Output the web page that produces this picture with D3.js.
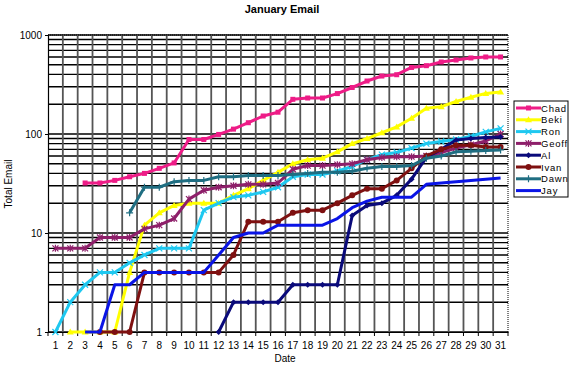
<!DOCTYPE html>
<meta charset="utf-8">
<script src="https://d3js.org/d3.v7.min.js"></script>
<style>
  body { margin: 0; background: #fff; }
  text { font-family: "Liberation Sans", Arial, sans-serif; }
</style>
<div id="my_dataviz"></div>

<script>

// data (null = no value that day)
var days = d3.range(1, 32);
var seriesNames = ["Chad", "Beki", "Ron", "Geoff", "Al", "Ivan", "Dawn", "Jay"];

var chad  = [null,null,32,32,34,37,40,45,51,88,88,99,112,130,152,166,224,231,231,256,295,343,385,397,470,490,534,559,586,600,600];
var beki  = [null,1,1,1,1,4,12,16,19,20,20,20,24,28,34,41,50,55,57,66,80,90,103,118,144,182,189,213,235,257,265];
var ron   = [1,2,3,4,4,5,6,7,7,7,17,20,23,24,26,29,37,39,39,42,47,55,62,65,72,80,84,88,95,105,114];
var geoff = [7,7,7,9,9,9,11,12,14,22,27,29,30,31,31,32,44,48,48,49,50,55,58,59,59,60,65,72,78,85,100];
var al    = [null,null,null,null,null,null,null,null,null,null,null,1,2,2,2,2,3,3,3,3,15,19,20,24,35,58,70,87,90,92,93];
var ivan  = [null,null,null,1,1,1,4,4,4,4,4,4,6,13,13,13,16,17,17,20,24,28,28,34,45,60,70,77,77,74,74];
var dawn  = [null,null,null,null,null,16,29,29,33,34,34,37,37,38,38,38,39,40,41,41,42,45,47,47,48,57,60,66,67,68,69];
var jay   = [null,null,1,1,3,3,4,4,4,4,4,6,9,10,10,12,12,12,12,14,18,21,23,23,23,31,32,33,34,35,36];

var yTicks = [1, 10, 100, 1000];

var colors  = ["#EE1C87", "#FFFF00", "#1EC8F0", "#8E1F6A", "#0A0A7A", "#7E1010", "#1F6E82", "#0A14E6"];
var markers = ["square", "triangle", "x", "star", "diamond", "circle", "plus", "none"];
var values  = [chad, beki, ron, geoff, al, ivan, dawn, jay];

// set the dimensions of the graph
var width = 575, height = 368;
var plot = {left: 48, right: 508, top: 35, bottom: 332};

var svg = d3.select("#my_dataviz")
  .append("svg")
    .attr("width", width)
    .attr("height", height);

// scales
var x = d3.scaleBand()
  .domain(days)
  .range([plot.left, plot.right]);

var y = d3.scaleLog()
  .domain([1, 1000])
  .range([plot.bottom, plot.top]);

// horizontal gridlines: every 1..9 step of each decade
var minor = [];
[1, 10, 100].forEach(function(d) {
  for (var i = 1; i < 10; i++) minor.push(d * i);
});
minor.push(1000);

svg.append("g")
  .selectAll("line")
  .data(minor)
  .enter()
  .append("line")
    .attr("x1", plot.left)
    .attr("x2", plot.right)
    .attr("y1", function(d) { return y(d); })
    .attr("y2", function(d) { return y(d); })
    .attr("stroke", "#000")
    .attr("stroke-width", 1.4);

// vertical gridlines at category boundaries
svg.append("g")
  .selectAll("line")
  .data(days.slice(1))
  .enter()
  .append("line")
    .attr("x1", function(d) { return x(d); })
    .attr("x2", function(d) { return x(d); })
    .attr("y1", plot.top)
    .attr("y2", plot.bottom)
    .attr("stroke", "#555")
    .attr("stroke-width", 1.8);

// dotted frame on top and right
svg.append("path")
  .attr("d", "M" + plot.left + "," + plot.top + "H" + plot.right + "V" + plot.bottom)
  .attr("fill", "none")
  .attr("stroke", "#000")
  .attr("stroke-dasharray", "1,1");

// Y axis
var yAxis = svg.append("g")
  .attr("transform", "translate(" + plot.left + ",0)")
  .call(d3.axisLeft(y).tickValues(yTicks).tickFormat(d3.format("d")).tickSize(3).tickPadding(3));

// X axis
var xAxis = svg.append("g")
  .attr("transform", "translate(0," + plot.bottom + ")")
  .call(d3.axisBottom(x).tickSize(0).tickPadding(10));

[yAxis, xAxis].forEach(function(a) {
  a.select(".domain").attr("stroke", "#000").attr("stroke-width", 1.2);
  a.selectAll("text").style("font-size", "10px").attr("fill", "#000");
});

// tick marks on the category boundaries
svg.append("g")
  .selectAll("line")
  .data(days.concat([32]))
  .enter()
  .append("line")
    .attr("x1", function(d) { return d === 32 ? plot.right : x(d); })
    .attr("x2", function(d) { return d === 32 ? plot.right : x(d); })
    .attr("y1", plot.bottom)
    .attr("y2", plot.bottom + 4)
    .attr("stroke", "#000");

// titles
svg.append("text")
  .attr("x", 282)
  .attr("y", 13)
  .attr("text-anchor", "middle")
  .style("font-size", "11px")
  .style("font-weight", "bold")
  .text("January Email");

svg.append("text")
  .attr("x", 285)
  .attr("y", 362)
  .attr("text-anchor", "middle")
  .style("font-size", "10px")
  .text("Date");

svg.append("text")
  .attr("transform", "translate(12,184) rotate(-90)")
  .attr("text-anchor", "middle")
  .style("font-size", "10px")
  .text("Total Email");

// marker shapes
function marker(g, type, color) {
  if (type === "square") {
    g.append("rect").attr("x", -2.5).attr("y", -2.5).attr("width", 5).attr("height", 5).attr("fill", color);
  } else if (type === "triangle") {
    g.append("path").attr("d", "M0,-3.5L3.5,2.5L-3.5,2.5Z").attr("fill", color);
  } else if (type === "circle") {
    g.append("circle").attr("r", 3).attr("fill", color);
  } else if (type === "diamond") {
    g.append("path").attr("d", "M0,-3L3,0L0,3L-3,0Z").attr("fill", color);
  } else if (type === "x") {
    g.append("path").attr("d", "M-3,-3L3,3M-3,3L3,-3").attr("stroke", color).attr("stroke-width", 1.2);
  } else if (type === "star") {
    g.append("path").attr("d", "M-3,-3L3,3M-3,3L3,-3M0,-3.5V3.5").attr("stroke", color).attr("stroke-width", 1.2);
  } else if (type === "plus") {
    g.append("path").attr("d", "M-3.5,0H3.5M0,-3.5V3.5").attr("stroke", color).attr("stroke-width", 1.2);
  }
}

var line = d3.line()
  .defined(function(d) { return d.v !== null; })
  .x(function(d) { return x(d.day) + x.bandwidth() / 2; })
  .y(function(d) { return y(d.v); });

// draw each series
seriesNames.forEach(function(name, i) {
  var data = values[i].map(function(v, j) { return {day: days[j], v: v}; });
  var g = svg.append("g");
  g.append("path")
    .datum(data)
    .attr("d", line)
    .attr("fill", "none")
    .attr("stroke", colors[i])
    .attr("stroke-width", 3)
    .attr("stroke-linejoin", "round");
  if (markers[i] !== "none") {
    g.selectAll("g")
      .data(data.filter(function(d) { return d.v !== null; }))
      .enter()
      .append("g")
        .attr("transform", function(d) { return "translate(" + (x(d.day) + x.bandwidth() / 2) + "," + y(d.v) + ")"; })
        .each(function() { marker(d3.select(this), markers[i], colors[i]); });
  }
});

// legend
var legend = svg.append("g")
  .attr("transform", "translate(514,101)");

legend.append("rect")
  .attr("width", 54)
  .attr("height", 96)
  .attr("fill", "#fff")
  .attr("stroke", "#000");

seriesNames.forEach(function(name, i) {
  var row = legend.append("g")
    .attr("transform", "translate(0," + (7 + i * 11.8) + ")");
  row.append("line")
    .attr("x1", 2)
    .attr("x2", 27)
    .attr("stroke", colors[i])
    .attr("stroke-width", 3);
  var m = row.append("g").attr("transform", "translate(14.5,0)");
  marker(m, markers[i], colors[i]);
  row.append("text")
    .attr("x", 27)
    .attr("y", 3.5)
    .style("font-size", "9.5px")
    .style("letter-spacing", "0.8px")
    .text(name);
});

</script>
